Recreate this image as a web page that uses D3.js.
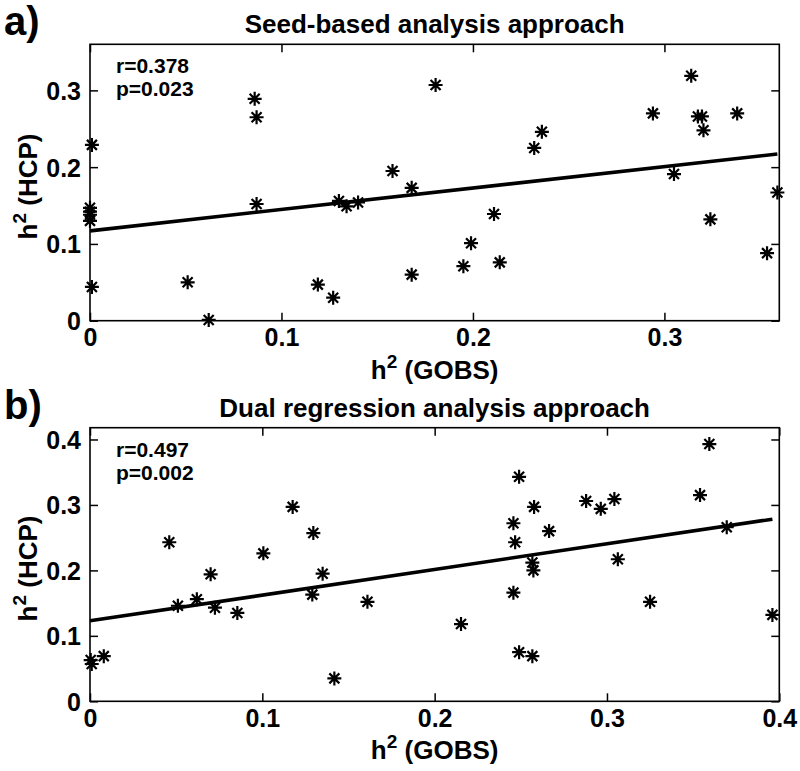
<!DOCTYPE html>
<html>
<head>
<meta charset="utf-8">
<script src="https://cdn.jsdelivr.net/npm/d3@7"></script>
<style>
  html, body { margin: 0; padding: 0; background: #fff; }
  svg { display: block; }
  text { font-family: "Liberation Sans", Arial, Helvetica, sans-serif; font-weight: bold; fill: #000; }
</style>
</head>
<body>
<svg id="chart" width="800" height="771"></svg>
<script>
// ---------- Panel a: Seed-based analysis approach ----------
const seedGOBS = [0.001, 0.0, 0.0, 0.0, 0.0, 0.001, 0.051, 0.062, 0.086, 0.087, 0.087, 0.119, 0.127, 0.130, 0.134, 0.140, 0.158, 0.168, 0.168, 0.1805, 0.195, 0.199, 0.211, 0.214, 0.232, 0.236, 0.294, 0.305, 0.314, 0.3175, 0.3196, 0.3204, 0.324, 0.338, 0.3536, 0.359];
const seedHCP  = [0.229, 0.147, 0.142, 0.138, 0.130, 0.044, 0.050, 0.001, 0.289, 0.265, 0.152, 0.047, 0.030, 0.156, 0.149, 0.154, 0.195, 0.173, 0.060, 0.307, 0.071, 0.101, 0.139, 0.076, 0.225, 0.246, 0.270, 0.191, 0.319, 0.266, 0.266, 0.248, 0.132, 0.270, 0.088, 0.167];
const seedFit  = { intercept: 0.117, slope: 0.279 };
const seedStats = ["r=0.378", "p=0.023"];
const seedXTicks = [0, 0.1, 0.2, 0.3];
const seedYTicks = [0, 0.1, 0.2, 0.3];

// ---------- Panel b: Dual regression analysis approach ----------
const dualGOBS = [0.0004, 0.001, 0.008, 0.046, 0.051, 0.062, 0.070, 0.0725, 0.0855, 0.1006, 0.1176, 0.129, 0.1296, 0.135, 0.1418, 0.161, 0.2153, 0.2457, 0.2467, 0.2457, 0.249, 0.249, 0.2567, 0.2573, 0.2577, 0.2567, 0.2664, 0.2879, 0.2964, 0.3043, 0.3063, 0.325, 0.354, 0.3594, 0.3695, 0.396];
const dualHCP  = [0.063, 0.057, 0.069, 0.243, 0.146, 0.156, 0.194, 0.143, 0.135, 0.226, 0.297, 0.163, 0.257, 0.195, 0.035, 0.152, 0.118, 0.272, 0.243, 0.166, 0.343, 0.075, 0.212, 0.200, 0.297, 0.069, 0.260, 0.306, 0.294, 0.309, 0.217, 0.152, 0.315, 0.393, 0.266, 0.132];
const dualFit  = { intercept: 0.123, slope: 0.392 };
const dualStats = ["r=0.497", "p=0.002"];
const dualXTicks = [0, 0.1, 0.2, 0.3, 0.4];
const dualYTicks = [0, 0.1, 0.2, 0.3, 0.4];

const xLabelText = "(GOBS)";
const yLabelText = "(HCP)";

const svg = d3.select("#chart");
const fmt = d => d === 0 ? "0" : d3.format(".1f")(d);

const panels = [
  { letter: "a)", title: "Seed-based analysis approach", xs: seedGOBS, ys: seedHCP, fit: seedFit, stats: seedStats,
    xDomain: [0, 0.36], yDomain: [0, 0.36], xTicks: seedXTicks, yTicks: seedYTicks,
    left: 90, right: 779.3, top: 44.3, bottom: 320.7 },
  { letter: "b)", title: "Dual regression analysis approach", xs: dualGOBS, ys: dualHCP, fit: dualFit, stats: dualStats,
    xDomain: [0, 0.4], yDomain: [0, 0.418], xTicks: dualXTicks, yTicks: dualYTicks,
    left: 90, right: 779.3, top: 427.7, bottom: 701.3 }
];

const star = "M-7,0H7M0,-7V7M-5,-5L5,5M-5,5L5,-5";

panels.forEach(p => {
  const x = d3.scaleLinear().domain(p.xDomain).range([p.left, p.right]);
  const y = d3.scaleLinear().domain(p.yDomain).range([p.bottom, p.top]);
  const g = svg.append("g");
  const tickLen = 8;

  const bx = g.append("g").attr("transform", `translate(0,${p.bottom})`)
    .call(d3.axisBottom(x).tickValues(p.xTicks).tickSizeInner(-tickLen).tickSizeOuter(0).tickPadding(10).tickFormat(fmt));
  const ly = g.append("g").attr("transform", `translate(${p.left},0)`)
    .call(d3.axisLeft(y).tickValues(p.yTicks).tickSizeInner(-tickLen).tickSizeOuter(0).tickPadding(10).tickFormat(fmt));
  const tx = g.append("g").attr("transform", `translate(0,${p.top})`)
    .call(d3.axisTop(x).tickValues(p.xTicks).tickSizeInner(-tickLen).tickSizeOuter(0).tickFormat(""));
  const ry = g.append("g").attr("transform", `translate(${p.right},0)`)
    .call(d3.axisRight(y).tickValues(p.yTicks).tickSizeInner(-tickLen).tickSizeOuter(0).tickFormat(""));

  [bx, ly, tx, ry].forEach(a => {
    a.select(".domain").remove();
    a.selectAll(".tick line").attr("stroke", "#000").attr("stroke-width", 1.5);
    a.selectAll(".tick text").style("font-size", "25px").style("font-family", '"Liberation Sans", Arial, sans-serif').style("font-weight", "bold");
  });
  bx.selectAll(".tick text").attr("dy", "0.71em").attr("y", 8);
  ly.selectAll(".tick text").attr("x", -9).attr("dy", "0.36em");

  g.append("rect").attr("x", p.left).attr("y", p.top)
    .attr("width", p.right - p.left).attr("height", p.bottom - p.top)
    .attr("fill", "none").attr("stroke", "#000").attr("stroke-width", 1.6);

  const xMax = d3.max(p.xs);
  g.append("line")
    .attr("x1", x(0)).attr("y1", y(p.fit.intercept))
    .attr("x2", x(xMax)).attr("y2", y(p.fit.intercept + p.fit.slope * xMax))
    .attr("stroke", "#000").attr("stroke-width", 3.6);

  g.selectAll("path.pt").data(p.xs.map((v, i) => [v, p.ys[i]])).enter()
    .append("path").attr("class", "pt")
    .attr("transform", d => `translate(${x(d[0])},${y(d[1])})`)
    .attr("d", star).attr("stroke", "#000").attr("stroke-width", 2.2).attr("fill", "none");

  p.stats.forEach((s, i) => {
    g.append("text").attr("x", p.left + 26).attr("y", p.top + 29 + i * 23)
      .style("font-size", "21px").text(s);
  });

  g.append("text").attr("x", (p.left + p.right) / 2).attr("y", p.top - 11)
    .attr("text-anchor", "middle").style("font-size", "26px").text(p.title);

  g.append("text").attr("x", 4).attr("y", p.top - 9)
    .style("font-size", "40px").text(p.letter);

  const xl = g.append("text").attr("x", (p.left + p.right) / 2).attr("y", p.bottom + 58)
    .attr("text-anchor", "middle").style("font-size", "26px");
  xl.append("tspan").text("h");
  xl.append("tspan").attr("dy", -11).style("font-size", "19px").text("2");
  xl.append("tspan").attr("dy", 11).text(" " + xLabelText);

  const yl = g.append("text")
    .attr("transform", `translate(37,${(p.top + p.bottom) / 2 + 4}) rotate(-90)`)
    .attr("text-anchor", "middle").style("font-size", "26px");
  yl.append("tspan").text("h");
  yl.append("tspan").attr("dy", -11).style("font-size", "19px").text("2");
  yl.append("tspan").attr("dy", 11).text(" " + yLabelText);
});
</script>
</body>
</html>
